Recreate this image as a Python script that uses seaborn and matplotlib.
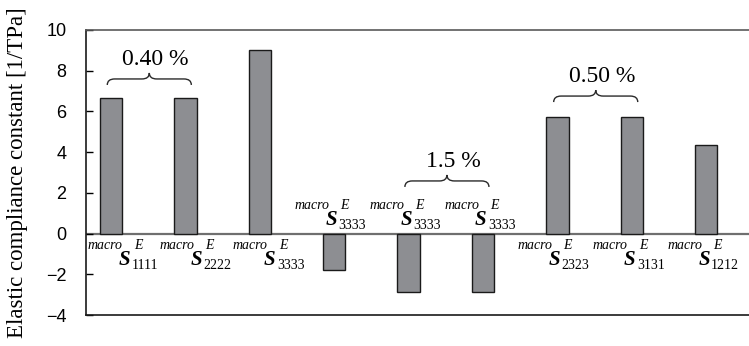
import numpy as np
import pandas as pd
import matplotlib
matplotlib.use("Agg")
import matplotlib.pyplot as plt
import seaborn as sns
from matplotlib.path import Path
from matplotlib.patches import PathPatch

# Macroscopic elastic compliance components (1/TPa)
subscripts = ["1111", "2222", "3333", "3333", "3333", "3333", "2323", "3131", "1212"]
values = [6.65, 6.65, 9.03, -1.81, -2.87, -2.87, 5.74, 5.74, 4.35]

# Applied strain groups, marked by braces over pairs of bars
strain_labels = ["0.40 %", "1.5 %", "0.50 %"]
strain_pairs = [(0, 1), (4, 5), (6, 7)]

yticks = [-4, -2, 0, 2, 4, 6, 8, 10]

# layout constants
label_dx = [9, 6, 5, -8, -7, -7, -8, -7, -7]      # px offset of the "S" glyph from bar centre
brace_base = [7.30, 2.29, 6.46]                    # y of brace tips (data)
brace_h = 0.59

serif = "Liberation Serif"
sans = "Liberation Sans"

df = pd.DataFrame({"slot": np.arange(len(values)), "value": values})

fig = plt.figure(figsize=(7.49, 3.46), dpi=100)
ax = fig.add_axes([86 / 749, 31 / 346, 674 / 749, 285 / 346])

ax.axhline(0, color="#6f6f6f", lw=1.6, zorder=1)
sns.barplot(data=df, x="slot", y="value", color="#8d8e92", saturation=1,
            width=0.3, edgecolor="#1a1a1a", linewidth=1.0, ax=ax, zorder=2)

ax.set_xlim(-0.336, 8.723)
ax.set_ylim(-4, 10)
ax.set_xticks([])
ax.set_xlabel("")
ax.set_yticks(yticks)
ax.set_yticklabels([str(v).replace("-", "\u2212") for v in yticks],
                   fontfamily=sans, fontsize=13)
ax.tick_params(axis="y", direction="in", length=5, width=1, pad=14)

ax.spines["right"].set_visible(False)
ax.spines["top"].set_color("#5a5a5a")
ax.spines["top"].set_linewidth(1.2)
for side in ("left", "bottom"):
    ax.spines[side].set_color("#1a1a1a")
    ax.spines[side].set_linewidth(1.2)

ax.set_ylabel("Elastic compliance constant [1/TPa]", fontfamily=serif, fontsize=16.5)
ax.yaxis.set_label_coords(-0.086, 0.5)

# component labels: "macro E" superscript, bold italic S with subscript
for i, (sub, v) in enumerate(zip(subscripts, values)):
    dx = label_dx[i]
    if v >= 0:
        y_sup, y_s = -15, -31
    else:
        y_sup, y_s = 25, 9
    kw = dict(xy=(i, 0), xycoords="data", textcoords="offset pixels",
              ha="left", va="baseline", fontfamily=serif)
    ax.annotate("macro", xytext=(dx - 32, y_sup), fontsize=10, style="italic", **kw)
    ax.annotate("E", xytext=(dx + 14, y_sup), fontsize=10, style="italic", **kw)
    ax.annotate("S", xytext=(dx - 1, y_s), fontsize=15, style="italic",
                weight="bold", **kw)
    ax.annotate(sub, xytext=(dx + 12, y_s - 4), fontsize=10, **kw)


def brace(ax, x0, x1, y0, h, r=0.1):
    xm = 0.5 * (x0 + x1)
    ym = y0 + h / 2
    verts = [(x0, y0), (x0, ym), (x0 + r, ym), (xm - r, ym),
             (xm, ym), (xm, y0 + h), (xm, ym), (xm + r, ym),
             (x1 - r, ym), (x1, ym), (x1, y0)]
    codes = [Path.MOVETO, Path.CURVE3, Path.CURVE3, Path.LINETO,
             Path.CURVE3, Path.CURVE3, Path.CURVE3, Path.CURVE3,
             Path.LINETO, Path.CURVE3, Path.CURVE3]
    ax.add_patch(PathPatch(Path(verts, codes), fill=False, ec="#2a2a2a", lw=1.0))
    return xm, y0 + h


for (a, b), lab, yb in zip(strain_pairs, strain_labels, brace_base):
    xm, ytop = brace(ax, a - 0.05, b + 0.08, yb, brace_h)
    ax.annotate(lab, xy=(xm, ytop), textcoords="offset pixels", xytext=(6, 8),
                ha="center", va="baseline", fontfamily=serif, fontsize=17)

fig.savefig("out.png", dpi=100)
